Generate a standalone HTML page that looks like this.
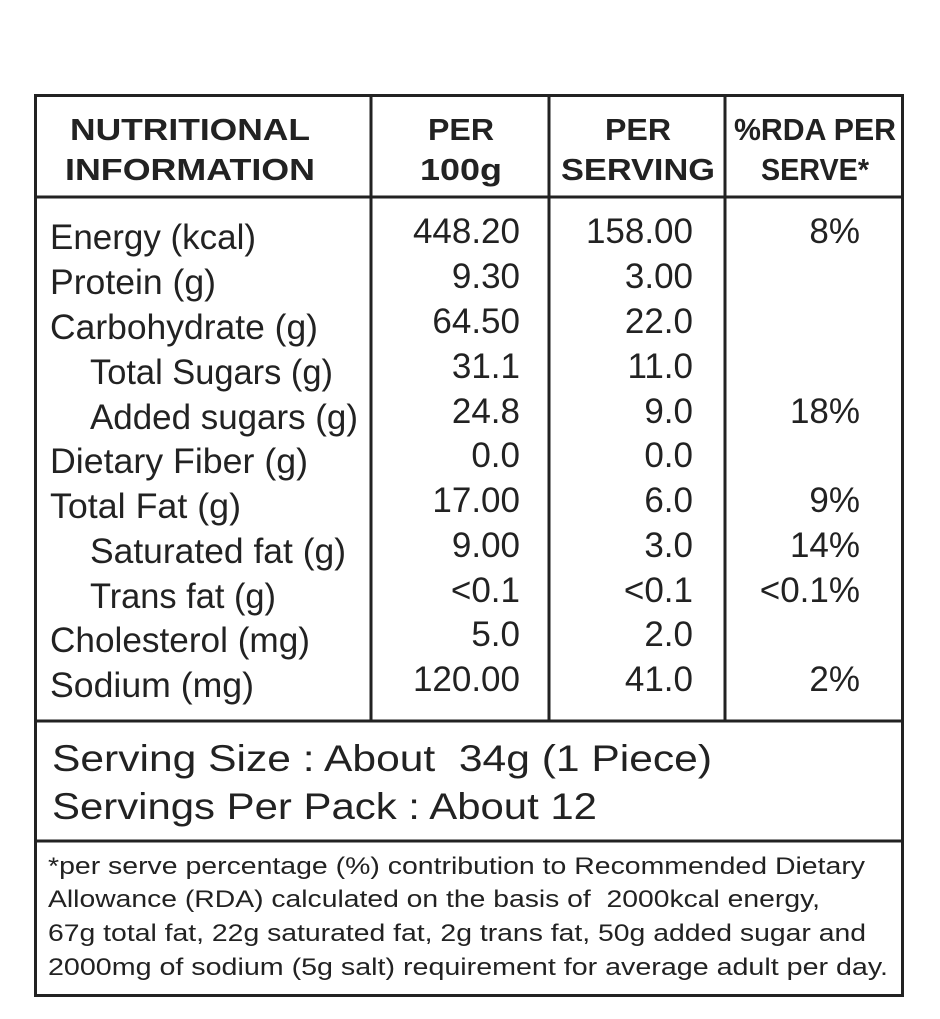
<!DOCTYPE html>
<html><head><style>body{margin:0;background:#fff}svg{display:block}</style></head><body>
<svg width="940" height="1019" xmlns="http://www.w3.org/2000/svg" font-family="Liberation Sans, sans-serif" fill="#222">
<rect x="35.5" y="95.5" width="867" height="900" fill="none" stroke="#222" stroke-width="3"/>
<line x1="34" y1="197" x2="904" y2="197" stroke="#222" stroke-width="3"/>
<line x1="34" y1="721" x2="904" y2="721" stroke="#222" stroke-width="3"/>
<line x1="34" y1="841" x2="904" y2="841" stroke="#222" stroke-width="3"/>
<line x1="371" y1="95" x2="371" y2="721" stroke="#222" stroke-width="3"/>
<line x1="549" y1="95" x2="549" y2="721" stroke="#222" stroke-width="3"/>
<line x1="725" y1="95" x2="725" y2="721" stroke="#222" stroke-width="3"/>
<g font-weight="bold" font-size="31" text-anchor="middle">
<text x="190" y="140" textLength="240" lengthAdjust="spacingAndGlyphs">NUTRITIONAL</text>
<text x="190" y="180" textLength="250" lengthAdjust="spacingAndGlyphs">INFORMATION</text>
<text x="461" y="140" textLength="66" lengthAdjust="spacingAndGlyphs">PER</text>
<text x="461" y="180" textLength="82" lengthAdjust="spacingAndGlyphs">100g</text>
<text x="638" y="140" textLength="66" lengthAdjust="spacingAndGlyphs">PER</text>
<text x="638" y="180" textLength="154" lengthAdjust="spacingAndGlyphs">SERVING</text>
<text x="815" y="140" textLength="162" lengthAdjust="spacingAndGlyphs">%RDA PER</text>
<text x="815" y="180" textLength="108" lengthAdjust="spacingAndGlyphs">SERVE*</text>
</g>
<g font-size="35">
<text x="50" y="249" textLength="206" lengthAdjust="spacingAndGlyphs">Energy (kcal)</text>
<text x="50" y="294" textLength="166" lengthAdjust="spacingAndGlyphs">Protein (g)</text>
<text x="50" y="339" textLength="268" lengthAdjust="spacingAndGlyphs">Carbohydrate (g)</text>
<text x="90" y="384" textLength="243" lengthAdjust="spacingAndGlyphs">Total Sugars (g)</text>
<text x="90" y="429" textLength="268" lengthAdjust="spacingAndGlyphs">Added sugars (g)</text>
<text x="50" y="473" textLength="258" lengthAdjust="spacingAndGlyphs">Dietary Fiber (g)</text>
<text x="50" y="518" textLength="191" lengthAdjust="spacingAndGlyphs">Total Fat (g)</text>
<text x="90" y="563" textLength="256" lengthAdjust="spacingAndGlyphs">Saturated fat (g)</text>
<text x="90" y="608" textLength="186" lengthAdjust="spacingAndGlyphs">Trans fat (g)</text>
<text x="50" y="652" textLength="260" lengthAdjust="spacingAndGlyphs">Cholesterol (mg)</text>
<text x="50" y="697" textLength="204" lengthAdjust="spacingAndGlyphs">Sodium (mg)</text>
</g>
<g font-size="35" text-anchor="end">
<text x="520" y="243">448.20</text><text x="693" y="243">158.00</text><text x="860" y="243">8%</text>
<text x="520" y="288">9.30</text><text x="693" y="288">3.00</text>
<text x="520" y="333">64.50</text><text x="693" y="333">22.0</text>
<text x="520" y="378">31.1</text><text x="693" y="378">11.0</text>
<text x="520" y="423">24.8</text><text x="693" y="423">9.0</text><text x="860" y="423">18%</text>
<text x="520" y="467">0.0</text><text x="693" y="467">0.0</text>
<text x="520" y="512">17.00</text><text x="693" y="512">6.0</text><text x="860" y="512">9%</text>
<text x="520" y="557">9.00</text><text x="693" y="557">3.0</text><text x="860" y="557">14%</text>
<text x="520" y="602">&lt;0.1</text><text x="693" y="602">&lt;0.1</text><text x="860" y="602">&lt;0.1%</text>
<text x="520" y="646">5.0</text><text x="693" y="646">2.0</text>
<text x="520" y="691">120.00</text><text x="693" y="691">41.0</text><text x="860" y="691">2%</text>
</g>
<g font-size="37">
<text x="52" y="771" textLength="660" lengthAdjust="spacingAndGlyphs" xml:space="preserve">Serving Size : About  34g (1 Piece)</text>
<text x="52" y="819" textLength="545" lengthAdjust="spacingAndGlyphs">Servings Per Pack : About 12</text>
</g>
<g font-size="24">
<text x="48" y="874" textLength="817" lengthAdjust="spacingAndGlyphs">*per serve percentage (%) contribution to Recommended Dietary</text>
<text x="48" y="907" textLength="772" lengthAdjust="spacingAndGlyphs" xml:space="preserve">Allowance (RDA) calculated on the basis of  2000kcal energy,</text>
<text x="48" y="941" textLength="818" lengthAdjust="spacingAndGlyphs">67g total fat, 22g saturated fat, 2g trans fat, 50g added sugar and</text>
<text x="48" y="975" textLength="840" lengthAdjust="spacingAndGlyphs">2000mg of sodium (5g salt) requirement for average adult per day.</text>
</g>
</svg>
</body></html>
